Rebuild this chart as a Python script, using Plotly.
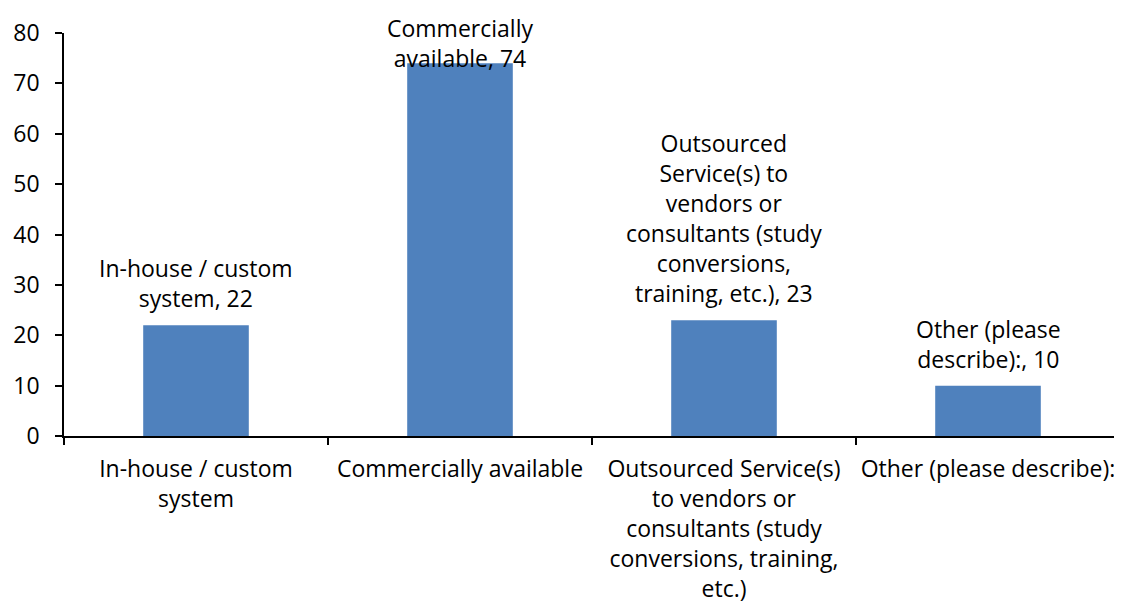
import plotly.graph_objects as go

categories = ["In-house / custom system", "Commercially available",
              "Outsourced Service(s) to vendors or consultants (study conversions, training, etc.)",
              "Other (please describe):"]
values = [22, 74, 23, 10]
tick_labels = ["In-house / custom<br>system", "Commercially available",
               "Outsourced Service(s)<br>to vendors or<br>consultants (study<br>conversions, training,<br>etc.)",
               "Other (please describe):"]
data_labels = ["In-house / custom<br>system, 22", "Commercially<br>available, 74",
               "Outsourced<br>Service(s) to<br>vendors or<br>consultants (study<br>conversions,<br>training, etc.), 23",
               "Other (please<br>describe):, 10"]
label_shift = [9, -13, 9, 9]

FONT = "Open Sans"
FS = 23
fig = go.Figure(go.Bar(x=categories, y=values, marker_color="#4F81BD",
                       marker_line_width=0, width=0.4))

for c, v, t, s in zip(categories, values, data_labels, label_shift):
    fig.add_annotation(x=c, y=v, text=t, showarrow=False, yanchor="bottom",
                       yshift=s, font=dict(family=FONT, size=FS, color="black"))

# page body has an 8px default margin; compensate so the plot lands where the reference has it
fig.update_layout(
    width=1114, height=604,
    margin=dict(l=56, r=2, t=25, b=176),
    plot_bgcolor="white", paper_bgcolor="white",
    font=dict(family=FONT, size=FS, color="black"),
    showlegend=False,
    bargap=0.6,
)
fig.update_yaxes(range=[0, 80], dtick=10, showline=True, linecolor="black", linewidth=1.5,
                 ticks="outside", ticklen=7, tickcolor="black", tickwidth=1.5,
                 showgrid=False, zeroline=False, ticklabelstandoff=11, automargin=False)
fig.update_xaxes(type="category", tickvals=categories, ticktext=tick_labels,
                 showline=True, linecolor="black", linewidth=1.5,
                 ticks="outside", ticklen=7, tickcolor="black", tickwidth=1.5,
                 tickson="boundaries", showgrid=False, tickangle=0,
                 ticklabelstandoff=12, automargin=False)

fig.write_html("out.html")
